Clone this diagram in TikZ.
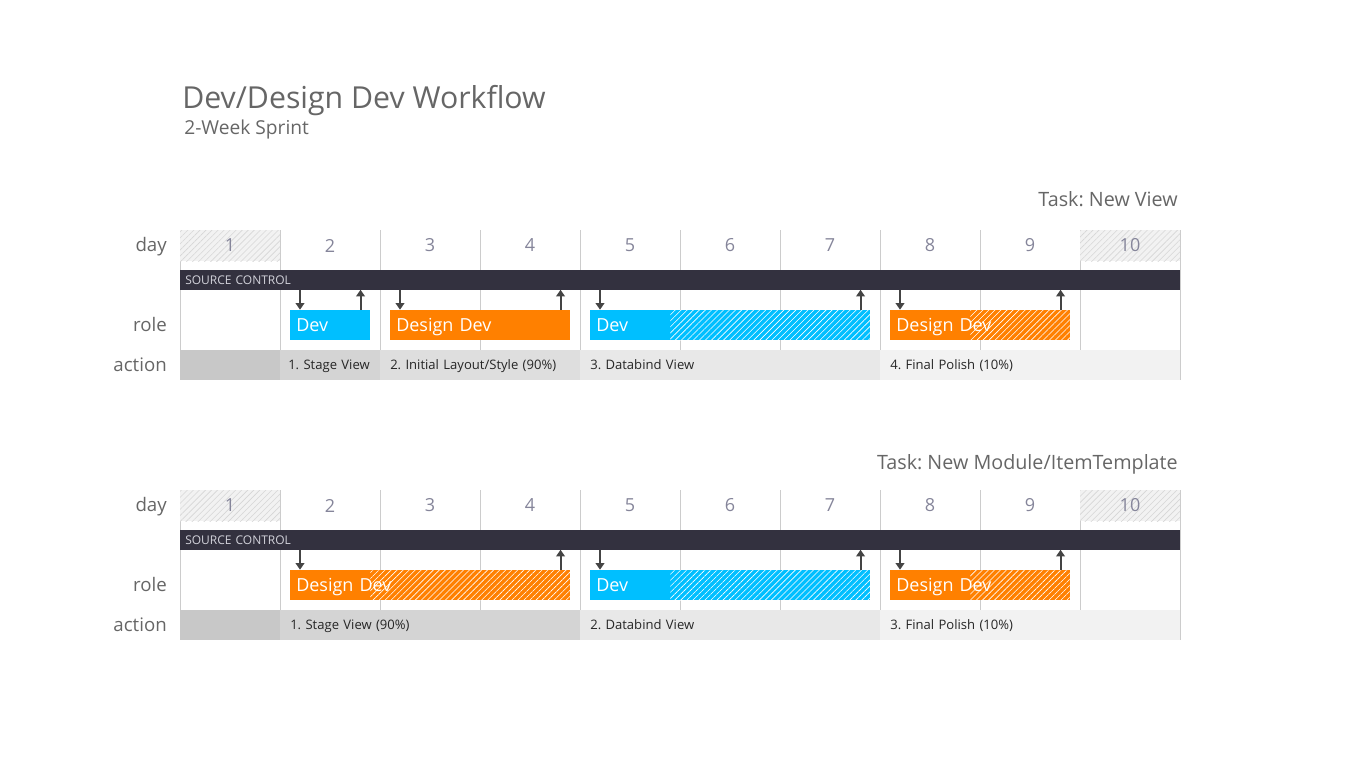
\documentclass[tikz,border=0pt]{standalone}
\usepackage{fontspec}
\setmainfont{Open Sans}
\usetikzlibrary{arrows.meta,patterns.meta,calc}
\frenchspacing

\definecolor{devblue}{HTML}{00BFFF}
\definecolor{designorange}{HTML}{FF8000}
\definecolor{scdark}{HTML}{33313F}
\definecolor{sctext}{HTML}{D2D2DA}
\definecolor{labelgray}{HTML}{666666}
\definecolor{daygray}{HTML}{85859A}
\definecolor{gridgray}{HTML}{CCCCCC}
\definecolor{offfill}{HTML}{F2F2F2}
\definecolor{offline}{HTML}{D6D6D6}
\definecolor{arrowgray}{HTML}{444444}
\definecolor{act0}{HTML}{C8C8C8}
\definecolor{act1}{HTML}{D4D4D4}
\definecolor{act2}{HTML}{DEDEDE}
\definecolor{act3}{HTML}{E8E8E8}
\definecolor{act4}{HTML}{F2F2F2}

\begin{document}
\begin{tikzpicture}[x=0.75pt,y=-0.75pt]
  \tikzset{
    rowlabel/.style={anchor=base east,inner sep=0pt,text=labelgray,font=\fontsize{14}{16}\selectfont},
    tasklabel/.style={anchor=base east,inner sep=0pt,text=labelgray,font=\fontsize{14.8}{17}\selectfont},
    daycell/.style={minimum width=75pt,minimum height=23.25pt,inner sep=0pt,text=daygray,font=\fontsize{13.5}{16}\selectfont},
    workday/.style={},
    offday/.style={fill=offfill,path picture={\fill[pattern={Lines[angle=45,distance=3.2pt,line width=0.45pt]},pattern color=offline] (path picture bounding box.north west) rectangle (path picture bounding box.south east);}},
    gridline/.style={gridgray,line width=0.75pt},
    scbar/.style={anchor=west,fill=scdark,minimum height=15pt,inner xsep=3.75pt,inner ysep=0pt,text width=742.5pt,align=left,text=sctext,font=\fontsize{9}{10}\selectfont},
    rolebox/.style={anchor=west,minimum height=22.5pt,inner xsep=4.5pt,inner ysep=0pt,text height=1.15em,text depth=0.25em,align=left,text=white,font=\fontsize{13.5}{15}\selectfont},
    hatched/.style={path picture={\fill[pattern={Lines[angle=45,distance=3.2pt,line width=0.45pt]},pattern color=white] ([xshift=#1]path picture bounding box.north west) rectangle (path picture bounding box.south east);}},
    actcell/.style={anchor=west,minimum height=22.5pt,inner xsep=7.5pt,inner ysep=0pt,text height=1.75ex,text depth=0.5ex,align=left,text=black!85,font=\fontsize{9.8}{11}\selectfont},
    sync/.style={arrowgray,line width=1.5pt,-{Triangle[width=6.5pt,length=5pt]}}
  }
  \useasboundingbox (0,0) rectangle (1366,768);

  \node[anchor=base west,inner sep=0pt,text=labelgray,font=\fontsize{22.7}{26}\selectfont] (title) at (182,108) {Dev/Design Dev Workflow};
  \node[anchor=base west,inner sep=0pt,text=labelgray,font=\fontsize{14.4}{17}\selectfont] (subtitle) at (184,134) {2-Week Sprint};

  \node[tasklabel] (taska) at (1178,206) {Task: New View};
  \node[tasklabel] (taskb) at (1178,469) {Task: New Module/ItemTemplate};

  % common grid for both sprints
  \foreach \s/\dy in {a/0,b/260}{
    \begin{scope}[shift={(0,\dy)}]
      \foreach \x in {180,280,...,1180}
        \draw[gridline] (\x,230) -- (\x,380);
      \foreach \d/\st in {1/offday,2/workday,3/workday,4/workday,5/workday,6/workday,7/workday,8/workday,9/workday,10/offday}
        \node[daycell,\st] (day\d\s) at ({130+100*\d},245.5) {\d};
      \node[scbar] (sc\s) at (180,280) {SOURCE CONTROL};
      \node[rowlabel] (lday\s) at (167,251) {day};
      \node[rowlabel] (lrole\s) at (167,331) {role};
      \node[rowlabel] (laction\s) at (167,371) {action};
    \end{scope}
  }

  % Task: New View
  \node[rolebox,fill=devblue,text width=51pt] (r1a) at (290,325) {Dev};
  \node[rolebox,fill=designorange,text width=126pt] (r2a) at (390,325) {Design Dev};
  \node[rolebox,fill=devblue,text width=201pt,hatched=60pt] (r3a) at (590,325) {Dev};
  \node[rolebox,fill=designorange,text width=126pt,hatched=60pt] (r4a) at (890,325) {Design Dev};

  \foreach \r in {r1a,r2a,r3a,r4a}{
    \draw[sync] ($(\r.north west)+(10,-20)$) -- ([xshift=7.5pt]\r.north west);
    \draw[sync] ([xshift=-7.5pt]\r.north east) -- ($(\r.north east)+(-10,-20)$);
  }

  \node[actcell,fill=act0,text width=60pt] (a0a) at (180,365) {};
  \node[actcell,fill=act1,inner xsep=6pt,text width=63pt] (a1a) at (280,365) {1. Stage View};
  \node[actcell,fill=act2,text width=135pt] (a2a) at (380,365) {2. Initial Layout/Style (90\%)};
  \node[actcell,fill=act3,text width=210pt] (a3a) at (580,365) {3. Databind View};
  \node[actcell,fill=act4,text width=210pt] (a4a) at (880,365) {4. Final Polish (10\%)};

  % Task: New Module/ItemTemplate
  \node[rolebox,fill=designorange,text width=201pt,hatched=60pt] (r1b) at (290,585) {Design Dev};
  \node[rolebox,fill=devblue,text width=201pt,hatched=60pt] (r2b) at (590,585) {Dev};
  \node[rolebox,fill=designorange,text width=126pt,hatched=60pt] (r3b) at (890,585) {Design Dev};

  \foreach \r in {r1b,r2b,r3b}{
    \draw[sync] ($(\r.north west)+(10,-20)$) -- ([xshift=7.5pt]\r.north west);
    \draw[sync] ([xshift=-7.5pt]\r.north east) -- ($(\r.north east)+(-10,-20)$);
  }

  \node[actcell,fill=act0,text width=60pt] (a0b) at (180,625) {};
  \node[actcell,fill=act1,text width=210pt] (a1b) at (280,625) {1. Stage View (90\%)};
  \node[actcell,fill=act3,text width=210pt] (a2b) at (580,625) {2. Databind View};
  \node[actcell,fill=act4,text width=210pt] (a3b) at (880,625) {3. Final Polish (10\%)};
\end{tikzpicture}
\end{document}
